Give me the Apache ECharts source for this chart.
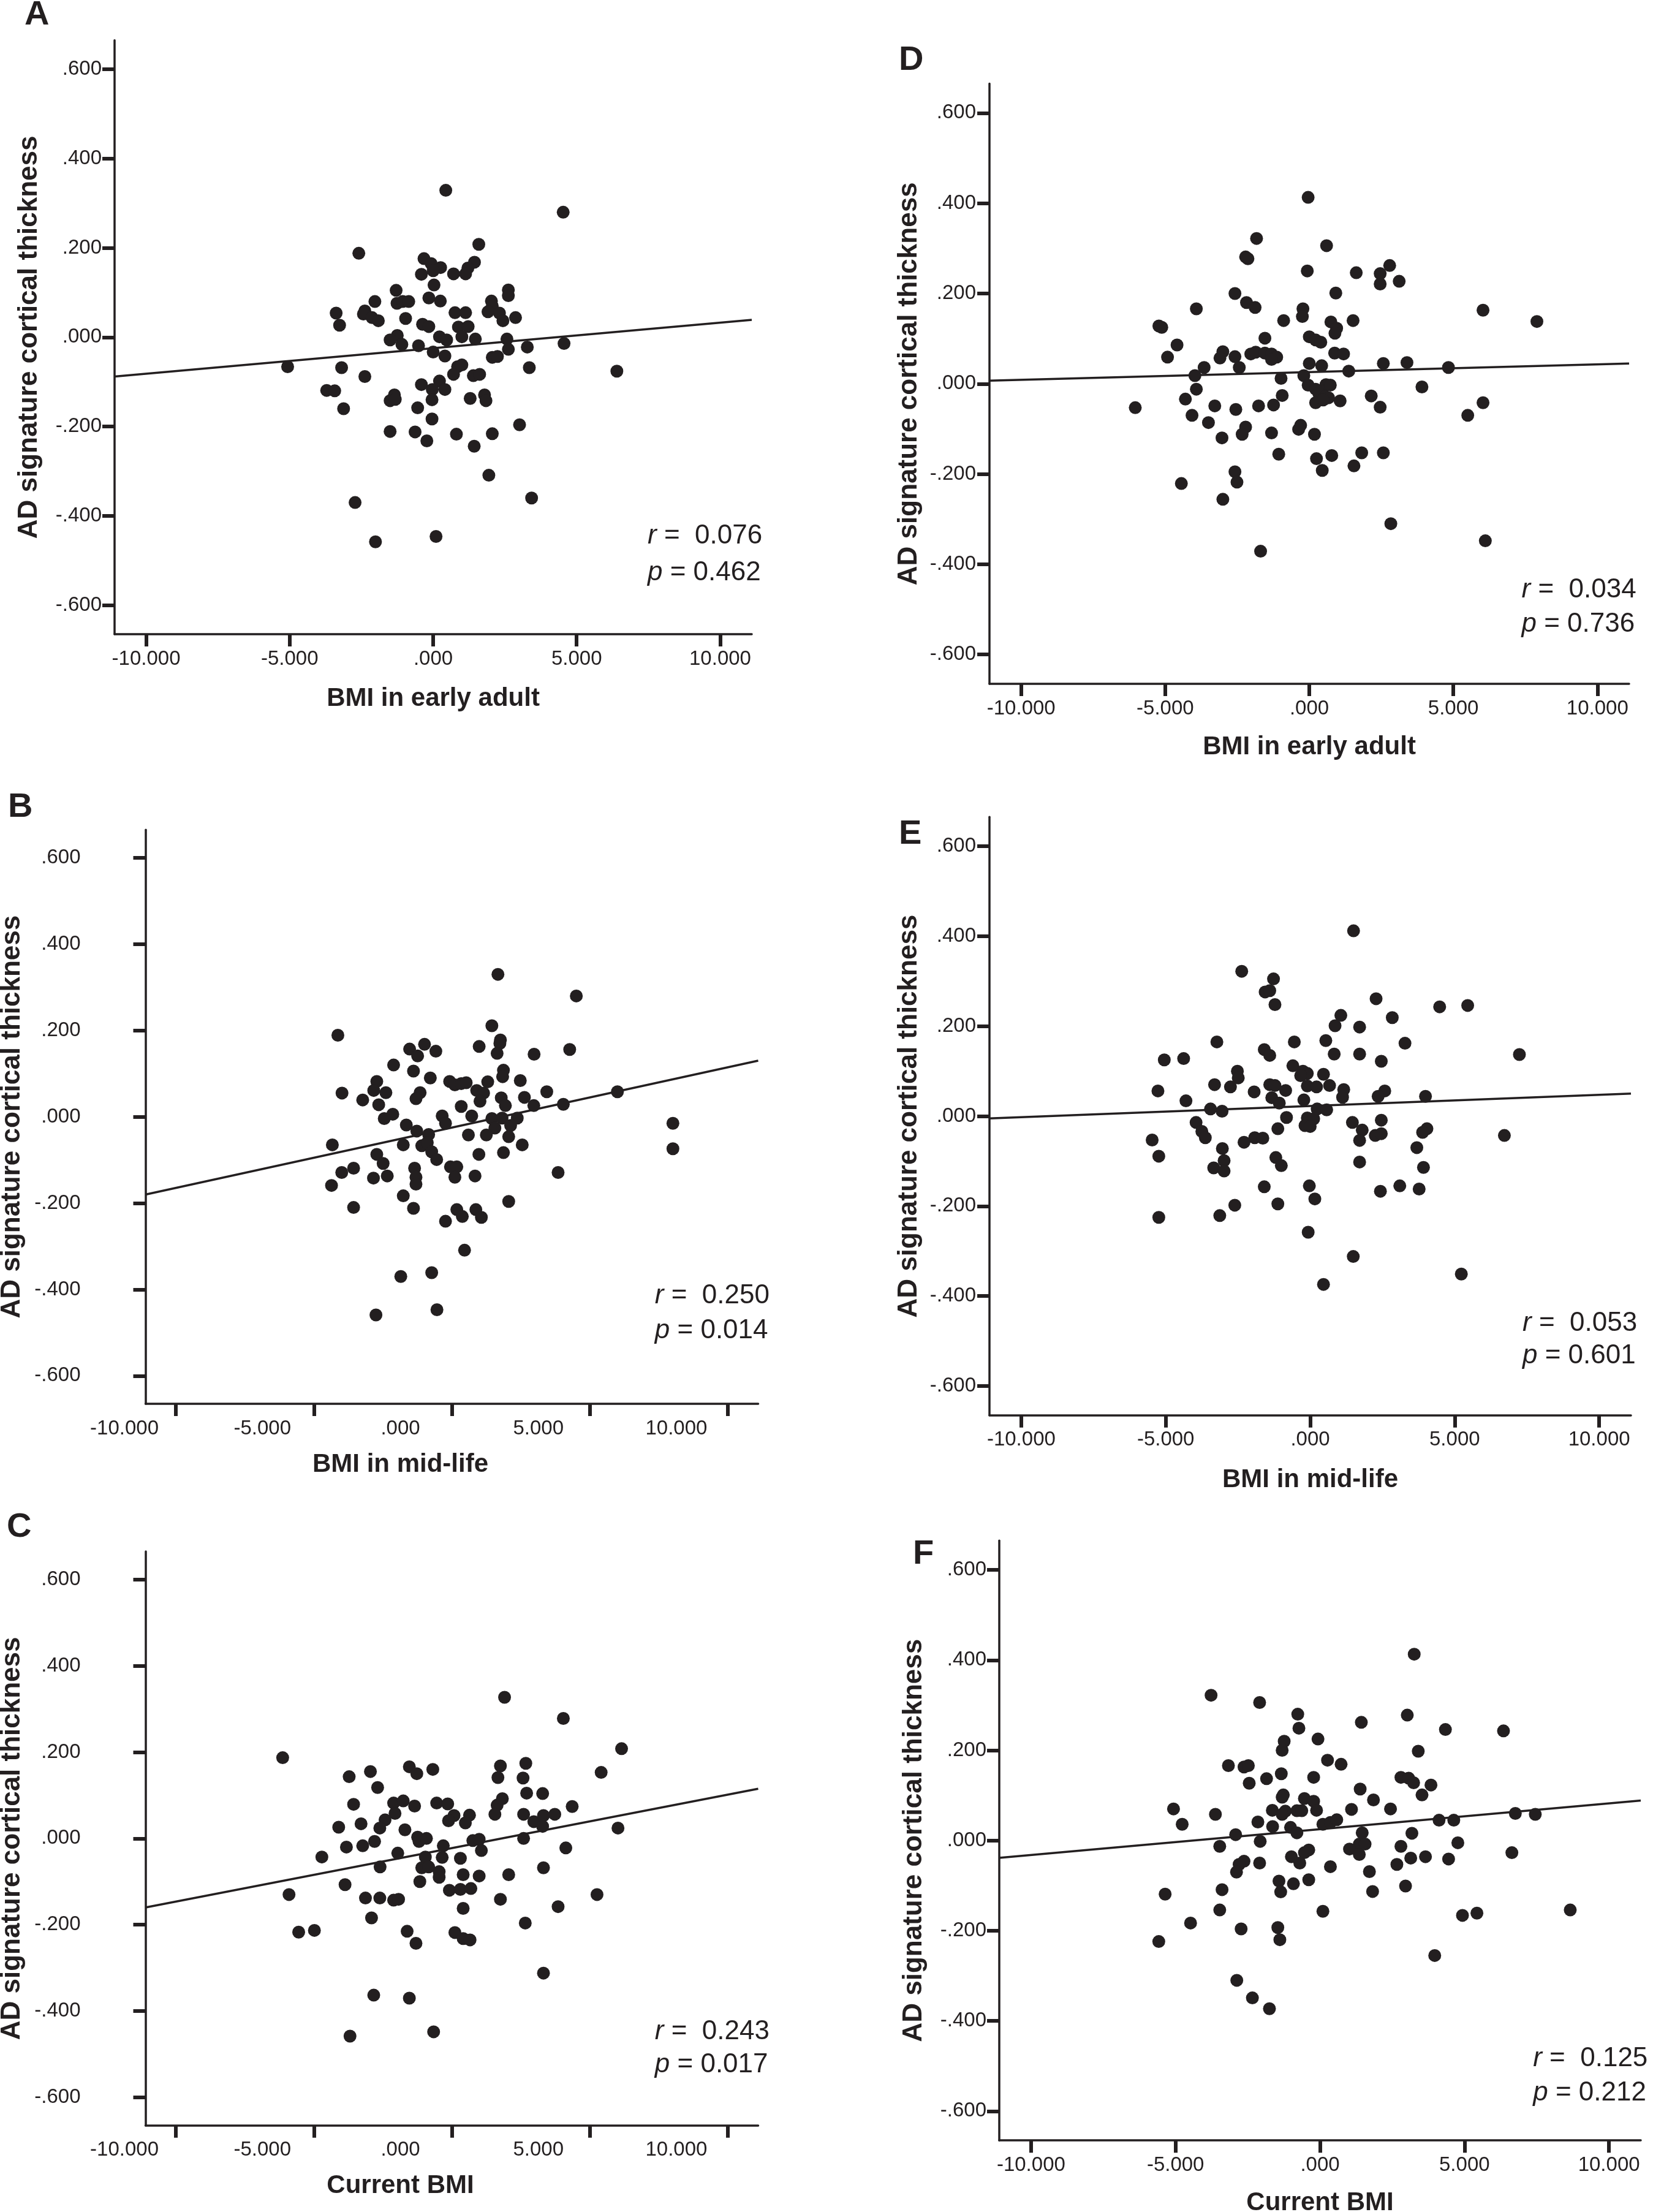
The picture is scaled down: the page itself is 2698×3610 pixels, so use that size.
<!DOCTYPE html>
<html><head><meta charset="utf-8">
<script src="https://cdn.jsdelivr.net/npm/echarts@6/dist/echarts.min.js"></script>
<style>html,body{margin:0;padding:0;background:#fff}#c{width:2698px;height:3610px}</style>
</head><body><div id="c"></div>
<script>
// ---------- tick labels ----------
const xTickValues = [-10, -5, 0, 5, 10];
const xTickLabels = ['-10.000', '-5.000', '.000', '5.000', '10.000'];
const yTickValues = [-0.6, -0.4, -0.2, 0, 0.2, 0.4, 0.6];
const yTickLabels = ['-.600', '-.400', '-.200', '.000', '.200', '.400', '.600'];
const yTitle = 'AD signature cortical thickness';

// ---------- Panel A : BMI in early adult ----------
const pointsA = [[0.44,0.329],[4.53,0.280],[1.59,0.208],[-2.59,0.188],[-0.32,0.176],[-0.07,0.165],[0.26,0.156],[0,0.149],[1.44,0.168],[1.21,0.155],[1.13,0.142],[0.71,0.142],[-0.41,0.141],[0.03,0.117],[-1.29,0.105],[2.62,0.106],[2.62,0.093],[-2.03,0.080],[-1.26,0.076],[-1.06,0.080],[-0.85,0.080],[-0.15,0.088],[0.25,0.081],[2.03,0.081],[2.06,0.070],[-3.38,0.054],[-2.38,0.059],[-2.43,0.052],[-2.13,0.044],[-1.91,0.037],[-0.96,0.042],[0.76,0.055],[1.13,0.055],[1.91,0.057],[2.31,0.054],[2.43,0.037],[2.87,0.044],[-3.26,0.027],[-0.37,0.029],[-0.15,0.024],[0.88,0.023],[1.22,0.024],[1.0,0.001],[-1.25,0.004],[-1.5,-0.006],[-1.09,-0.016],[-0.51,-0.019],[0.22,0.001],[0.47,-0.006],[1.47,-0.004],[2.57,-0.004],[2.62,-0.027],[3.28,-0.022],[4.56,-0.014],[0,-0.033],[0.41,-0.042],[2.06,-0.045],[2.24,-0.043],[-5.07,-0.066],[-3.19,-0.068],[0.85,-0.066],[1.0,-0.062],[3.35,-0.068],[6.4,-0.076],[-2.38,-0.088],[0.71,-0.083],[1.40,-0.086],[1.62,-0.083],[-0.41,-0.106],[0.22,-0.098],[-0.03,-0.117],[0.41,-0.117],[-3.71,-0.119],[-3.43,-0.120],[-1.35,-0.129],[-1.5,-0.142],[-1.32,-0.139],[-0.04,-0.140],[1.29,-0.137],[1.79,-0.129],[1.84,-0.142],[-3.12,-0.160],[-0.54,-0.158],[-0.04,-0.183],[3.01,-0.196],[-1.5,-0.211],[-0.63,-0.212],[-0.22,-0.232],[0.81,-0.217],[2.06,-0.216],[1.43,-0.244],[1.94,-0.309],[-2.72,-0.370],[3.43,-0.360],[-2.01,-0.458],[0.10,-0.446]];
const fitA = [[-11.1, -0.088], [11.1, 0.039]];
const statsA = ['0.076', '0.462'];

// ---------- Panel B : BMI in mid-life ----------
const pointsB = [[1.67,0.330],[4.51,0.280],[1.45,0.211],[-4.13,0.189],[1.76,0.178],[1.74,0.170],[-0.99,0.168],[-1.53,0.157],[-0.58,0.152],[-1.24,0.141],[0.99,0.163],[4.27,0.156],[1.64,0.147],[2.98,0.145],[-2.11,0.120],[-1.39,0.106],[1.87,0.108],[1.84,0.093],[-0.78,0.090],[-2.72,0.082],[-0.08,0.082],[0.11,0.074],[0.34,0.077],[0.52,0.079],[1.30,0.081],[2.48,0.084],[-2.83,0.061],[-2.39,0.056],[-3.98,0.055],[-1.15,0.056],[-1.30,0.042],[0.90,0.061],[1.15,0.055],[1.02,0.036],[1.79,0.044],[3.44,0.058],[6.0,0.058],[-3.23,0.039],[-2.65,0.028],[0.34,0.024],[1.94,0.026],[2.63,0.045],[2.97,0.026],[4.04,0.029],[-2.14,0.006],[-2.45,-0.004],[-0.35,0.002],[0.72,0.002],[1.45,-0.004],[1.82,-0.003],[2.37,-0.003],[-0.23,-0.015],[-1.65,-0.019],[1.56,-0.026],[2.13,-0.020],[-1.27,-0.033],[-0.84,-0.041],[0.60,-0.042],[1.25,-0.042],[2.06,-0.046],[-4.33,-0.065],[-1.76,-0.065],[-1.09,-0.067],[-0.89,-0.060],[2.55,-0.065],[-0.73,-0.081],[-2.72,-0.087],[0.98,-0.087],[1.87,-0.083],[-0.55,-0.099],[-2.49,-0.108],[-1.35,-0.119],[-0.05,-0.116],[0.18,-0.116],[-3.56,-0.119],[-3.99,-0.129],[3.85,-0.129],[-1.30,-0.140],[-1.30,-0.156],[-2.84,-0.142],[-2.34,-0.137],[0.11,-0.140],[0.84,-0.137],[-4.36,-0.159],[-1.76,-0.183],[2.06,-0.196],[-3.56,-0.210],[-1.39,-0.212],[0.18,-0.215],[0.38,-0.231],[0.87,-0.215],[1.07,-0.233],[-0.23,-0.242],[0.46,-0.309],[-1.85,-0.370],[-0.73,-0.361],[-2.75,-0.459],[-0.54,-0.447],[8.01,-0.015],[8.01,-0.074]];
const fitB = [[-11.1, -0.180], [11.1, 0.130]];
const statsB = ['0.250', '0.014'];

// ---------- Panel C : Current BMI ----------
const pointsC = [[1.91,0.327],[4.04,0.278],[6.15,0.208],[-6.13,0.187],[2.68,0.174],[1.76,0.168],[-1.54,0.166],[-0.69,0.160],[-2.95,0.155],[-1.27,0.150],[5.41,0.153],[-3.72,0.143],[1.67,0.141],[2.58,0.140],[-2.69,0.118],[2.71,0.105],[3.29,0.104],[-3.56,0.079],[-2.11,0.082],[-1.76,0.087],[-1.35,0.075],[-0.55,0.082],[-0.15,0.080],[1.64,0.077],[1.83,0.092],[4.36,0.074],[-2.06,0.058],[-2.42,0.043],[0.08,0.053],[-0.12,0.041],[0.64,0.054],[0.49,0.036],[1.56,0.056],[2.60,0.056],[2.97,0.039],[3.32,0.053],[3.73,0.056],[3.29,0.028],[-4.10,0.026],[-3.29,0.034],[-2.61,0.024],[-1.70,0.020],[6.02,0.024],[-1.24,0.003],[-1.19,-0.007],[-0.92,0],[-2.80,-0.007],[0.76,-0.005],[0.99,-0.002],[2.60,0],[-3.82,-0.020],[-3.23,-0.017],[-0.31,-0.017],[1.07,-0.028],[4.13,-0.022],[-1.96,-0.034],[-4.71,-0.043],[-0.96,-0.043],[-0.35,-0.044],[0.31,-0.046],[-1.09,-0.068],[-0.84,-0.066],[-2.60,-0.066],[-0.46,-0.077],[-0.46,-0.090],[0.41,-0.084],[0.99,-0.087],[2.06,-0.084],[3.32,-0.068],[-1.16,-0.100],[-3.87,-0.107],[-0.09,-0.120],[0.31,-0.118],[0.69,-0.116],[-5.90,-0.130],[-3.13,-0.138],[-2.61,-0.138],[-2.11,-0.143],[-1.93,-0.141],[1.76,-0.141],[5.26,-0.130],[0.41,-0.162],[3.85,-0.158],[-2.91,-0.184],[2.66,-0.196],[-5.55,-0.217],[-4.98,-0.213],[-1.62,-0.215],[0.11,-0.218],[0.41,-0.232],[0.66,-0.235],[-1.30,-0.243],[3.32,-0.312],[-2.83,-0.363],[-1.54,-0.370],[-0.66,-0.448],[-3.69,-0.458]];
const fitC = [[-11.1, -0.160], [11.1, 0.115]];
const statsC = ['0.243', '0.017'];

// ---------- Panel D : BMI in early adult ----------
const pointsD = [[-0.04,0.413],[-1.83,0.322],[0.60,0.306],[-2.21,0.281],[-2.13,0.277],[-0.07,0.250],[1.63,0.246],[2.79,0.262],[2.46,0.244],[2.46,0.221],[3.12,0.227],[-2.58,0.200],[0.92,0.201],[-2.18,0.180],[-1.88,0.169],[-3.92,0.166],[-0.22,0.166],[-0.24,0.149],[6.03,0.163],[-0.89,0.140],[0.75,0.137],[1.52,0.140],[7.9,0.138],[-5.22,0.128],[-5.12,0.125],[0.95,0.123],[0.89,0.112],[-1.54,0.101],[0,0.104],[0.22,0.097],[0.40,0.092],[-4.59,0.086],[-4.92,0.059],[-3.0,0.071],[-3.1,0.057],[-2.58,0.060],[-2.03,0.066],[-1.86,0.070],[-1.54,0.068],[-1.31,0.066],[-1.13,0.059],[-1.31,0.054],[0.88,0.068],[1.19,0.066],[0,0.045],[0.43,0.040],[2.57,0.045],[3.39,0.047],[4.83,0.036],[-3.65,0.036],[-2.43,0.036],[1.37,0.028],[-3.97,0.018],[-0.98,0.012],[-0.19,0.018],[-0.04,-0.003],[0.58,-0.002],[0.73,-0.003],[-3.92,-0.012],[0.22,-0.012],[0.33,-0.021],[0.55,-0.028],[0.67,-0.031],[3.91,-0.007],[-4.30,-0.034],[-0.94,-0.026],[0.22,-0.042],[0.48,-0.036],[1.07,-0.038],[2.15,-0.027],[-6.04,-0.053],[-3.28,-0.049],[-2.55,-0.057],[-1.76,-0.049],[-1.24,-0.047],[2.46,-0.052],[6.03,-0.042],[-4.07,-0.070],[-3.50,-0.086],[-2.21,-0.096],[-2.33,-0.112],[-0.30,-0.092],[-0.37,-0.101],[-1.31,-0.109],[0.18,-0.112],[5.50,-0.070],[-3.03,-0.120],[-1.06,-0.156],[0.25,-0.166],[0.78,-0.159],[1.82,-0.153],[2.57,-0.153],[0.45,-0.192],[1.55,-0.182],[-2.58,-0.195],[-2.51,-0.218],[-4.44,-0.221],[-3.0,-0.256],[2.83,-0.310],[6.11,-0.348],[-1.69,-0.371]];
const fitD = [[-11.1, 0.007], [11.1, 0.045]];
const statsD = ['0.034', '0.736'];

// ---------- Panel E : BMI in mid-life ----------
const pointsE = [[1.50,0.412],[-2.37,0.322],[-1.27,0.305],[-1.56,0.276],[-1.40,0.279],[-1.22,0.248],[2.28,0.261],[4.48,0.243],[5.45,0.246],[1.06,0.224],[2.84,0.219],[0.86,0.201],[1.71,0.198],[-3.23,0.165],[-0.55,0.165],[0.54,0.168],[3.28,0.162],[-1.59,0.148],[-1.40,0.135],[0.83,0.138],[1.71,0.138],[7.24,0.137],[-5.05,0.125],[-4.38,0.128],[2.46,0.122],[-0.60,0.112],[-2.52,0.100],[-0.25,0.100],[-0.10,0.095],[-0.33,0.090],[0.46,0.093],[-2.49,0.085],[-3.31,0.070],[-2.76,0.065],[-1.40,0.070],[-1.22,0.068],[-0.85,0.057],[-0.10,0.067],[0.22,0.065],[0.67,0.068],[1.16,0.059],[-5.27,0.056],[-1.94,0.054],[2.58,0.056],[-1.33,0.041],[-1.07,0.029],[-0.22,0.036],[1.12,0.042],[2.35,0.044],[3.99,0.044],[-4.30,0.034],[-3.45,0.016],[-3.05,0.011],[0.24,0.016],[0.57,0.014],[-0.82,-0.003],[-0.10,-0.004],[0.12,-0.006],[-3.95,-0.014],[-0.18,-0.021],[0,-0.023],[1.46,-0.014],[2.46,-0.009],[-3.75,-0.034],[-1.12,-0.028],[1.80,-0.031],[4.04,-0.028],[-3.63,-0.048],[-5.47,-0.053],[-1.92,-0.048],[-1.64,-0.049],[-2.29,-0.058],[2.25,-0.043],[2.46,-0.039],[1.71,-0.054],[3.89,-0.036],[6.72,-0.043],[-3.04,-0.072],[3.69,-0.070],[-5.24,-0.089],[-1.19,-0.092],[-2.98,-0.099],[-1.0,-0.110],[1.71,-0.102],[-3.34,-0.115],[-2.98,-0.122],[3.92,-0.114],[-1.59,-0.157],[-0.03,-0.155],[0.16,-0.184],[3.10,-0.155],[3.77,-0.162],[2.43,-0.167],[-2.61,-0.198],[-1.12,-0.195],[-5.24,-0.225],[-3.13,-0.221],[-0.07,-0.258],[1.49,-0.312],[5.23,-0.351],[0.46,-0.374]];
const fitE = [[-11.1, -0.005], [11.1, 0.050]];
const statsE = ['0.053', '0.601'];

// ---------- Panel F : Current BMI ----------
const pointsF = [[3.26,0.413],[-3.77,0.322],[-2.09,0.306],[-0.77,0.280],[3.02,0.278],[1.43,0.262],[-0.73,0.249],[4.34,0.246],[6.35,0.243],[-1.24,0.220],[-0.07,0.225],[-1.31,0.200],[3.40,0.198],[0.26,0.178],[0.73,0.169],[-3.17,0.166],[-2.63,0.163],[-2.48,0.166],[-1.34,0.148],[-0.22,0.140],[-1.85,0.137],[2.80,0.140],[3.07,0.138],[3.24,0.128],[-2.45,0.127],[3.84,0.123],[1.39,0.114],[3.53,0.101],[-1.27,0.101],[-1.31,0.096],[-0.54,0.093],[-0.22,0.087],[1.85,0.090],[-5.07,0.070],[-3.62,0.058],[-1.65,0.067],[-1.20,0.065],[-1.31,0.058],[-0.80,0.066],[-0.63,0.066],[-0.12,0.067],[1.09,0.069],[2.44,0.070],[6.76,0.060],[7.45,0.058],[-4.77,0.036],[-2.15,0.041],[-1.64,0.031],[0.10,0.036],[0.36,0.040],[0.58,0.046],[4.12,0.045],[4.63,0.045],[-1.02,0.029],[-0.80,0.017],[-2.92,0.013],[1.46,0.017],[3.18,0.016],[-2.07,-0.002],[-3.47,-0.013],[1.36,-0.008],[1.56,-0.008],[2.80,-0.013],[4.77,-0.005],[1.02,-0.019],[-0.39,-0.021],[-0.54,-0.027],[1.36,-0.031],[-0.99,-0.036],[3.14,-0.039],[3.65,-0.036],[6.64,-0.027],[-0.70,-0.050],[-2.63,-0.046],[-2.80,-0.053],[-2.09,-0.050],[2.66,-0.053],[4.45,-0.041],[0.36,-0.058],[-2.89,-0.070],[1.71,-0.069],[-0.39,-0.087],[-1.42,-0.090],[-0.92,-0.096],[2.96,-0.101],[-3.39,-0.109],[-1.36,-0.114],[1.82,-0.113],[-5.36,-0.119],[-3.47,-0.154],[0.10,-0.157],[4.93,-0.166],[5.43,-0.161],[8.66,-0.154],[-4.48,-0.183],[-2.73,-0.196],[-1.46,-0.193],[-1.39,-0.220],[-5.58,-0.224],[3.97,-0.255],[-2.88,-0.310],[-2.34,-0.349],[-1.75,-0.373]];
const fitF = [[-11.1, -0.0386], [11.1, 0.0887]];
const statsF = ['0.125', '0.212'];

// ---------- layout / style ----------
const FONT = "'Liberation Sans', Arial, Helvetica, sans-serif";
const INK = '#231f20';
const X_RANGE = [-11.1, 11.1];
const Y_RANGE = [-0.665, 0.665];

const panels = [
  { letter: 'A', pts: pointsA, fit: fitA, stats: statsA, xName: 'BMI in early adult',
    grid: { left: 187, top: 65.7, width: 1040, height: 969.4 }, xNameGap: 84, yNameGap: 117, yLabelMargin: 21, shift: 0,
    letterPos: [40, 25], statsPos: [1057, 875, 934.4] },
  { letter: 'B', pts: pointsB, fit: fitB, stats: statsB, xName: 'BMI in mid-life',
    grid: { left: 237.5, top: 1354.2, width: 1000, height: 936.9 }, xNameGap: 78, yNameGap: 196, yLabelMargin: 106, shift: 84,
    letterPos: [13, 1318], statsPos: [1068.8, 2115, 2172] },
  { letter: 'C', pts: pointsC, fit: fitC, stats: statsC, xName: 'Current BMI',
    grid: { left: 237.5, top: 2531.9, width: 1000, height: 936.9 }, xNameGap: 78, yNameGap: 196, yLabelMargin: 106, shift: 84,
    letterPos: [11, 2493], statsPos: [1068.8, 3316, 3370] },
  { letter: 'D', pts: pointsD, fit: fitD, stats: statsD, xName: 'BMI in early adult',
    grid: { left: 1615, top: 136.5, width: 1044, height: 979.6 }, xNameGap: 82, yNameGap: 109, yLabelMargin: 22, shift: 0,
    letterPos: [1467, 98.5], statsPos: [2483.5, 963, 1019] },
  { letter: 'E', pts: pointsE, fit: fitE, stats: statsE, xName: 'BMI in mid-life',
    grid: { left: 1615, top: 1333.3, width: 1047, height: 976.5 }, xNameGap: 85, yNameGap: 109, yLabelMargin: 22, shift: 0,
    letterPos: [1467, 1362], statsPos: [2485, 2160, 2212.5] },
  { letter: 'F', pts: pointsF, fit: fitF, stats: statsF, xName: 'Current BMI',
    grid: { left: 1631, top: 2514.2, width: 1047, height: 979 }, xNameGap: 81, yNameGap: 117, yLabelMargin: 21, shift: 0,
    letterPos: [1490, 2537], statsPos: [2502.2, 3360, 3415.8] }
];

function lookup(values, labels, v) {
  const i = values.findIndex(t => Math.abs(t - v) < 1e-6);
  return i < 0 ? '' : labels[i];
}

const grids = [], xAxes = [], yAxes = [], series = [], graphics = [];
panels.forEach((p, i) => {
  grids.push(Object.assign({ outerBoundsMode: 'none', containLabel: false }, p.grid));
  const lineCfg = { show: true, onZero: false, lineStyle: { color: INK, width: 3.5 } };
  const tickCfg = { show: true, length: 20, lineStyle: { color: INK, width: 6 } };
  xAxes.push({
    type: 'value', gridIndex: i, min: X_RANGE[0], max: X_RANGE[1],
    axisLine: lineCfg,
    axisTick: Object.assign({ customValues: xTickValues }, tickCfg),
    axisLabel: {
      customValues: xTickValues, margin: 24, color: INK, fontFamily: FONT, fontSize: 33,
      padding: [0, 2 * p.shift, 0, 0],
      formatter: v => lookup(xTickValues, xTickLabels, v)
    },
    splitLine: { show: false },
    name: p.xName, nameLocation: 'middle', nameGap: p.xNameGap, nameMoveOverlap: false,
    nameTextStyle: { color: INK, fontFamily: FONT, fontSize: 42, fontWeight: 'bold', padding: [0, 2 * p.shift, 0, 0] }
  });
  yAxes.push({
    type: 'value', gridIndex: i, min: Y_RANGE[0], max: Y_RANGE[1],
    axisLine: lineCfg,
    axisTick: Object.assign({ customValues: yTickValues }, tickCfg),
    axisLabel: {
      customValues: yTickValues, margin: p.yLabelMargin, color: INK, fontFamily: FONT, fontSize: 33,
      formatter: v => lookup(yTickValues, yTickLabels, v)
    },
    splitLine: { show: false },
    name: yTitle, nameLocation: 'middle', nameRotate: 90, nameGap: p.yNameGap, nameMoveOverlap: false,
    nameTextStyle: { color: INK, fontFamily: FONT, fontSize: 44, fontWeight: 'bold' }
  });
  series.push({
    type: 'line', xAxisIndex: i, yAxisIndex: i, data: p.fit, showSymbol: false, symbol: 'none',
    lineStyle: { color: INK, width: 3.5 }, silent: true, z: 2, clip: false
  });
  series.push({
    type: 'scatter', xAxisIndex: i, yAxisIndex: i, data: p.pts, symbol: 'circle', symbolSize: 21,
    itemStyle: { color: INK, opacity: 1 }, silent: true, z: 3
  });
  graphics.push({
    type: 'text', x: p.letterPos[0], y: p.letterPos[1],
    style: { text: p.letter, fill: INK, fontFamily: FONT, fontSize: 56, fontWeight: 'bold', align: 'left', verticalAlign: 'middle' }
  });
  const statLine = (sym, val, y) => ({
    type: 'text', x: p.statsPos[0], y: y,
    style: {
      text: '{i|' + sym + '}' + (sym === 'r' ? ' =  ' : ' = ') + val,
      fill: INK, fontFamily: FONT, fontSize: 44, align: 'left', verticalAlign: 'middle',
      rich: { i: { fontStyle: 'italic', fontFamily: FONT, fontSize: 44, fill: INK } }
    }
  });
  graphics.push(statLine('r', p.stats[0], p.statsPos[1]));
  graphics.push(statLine('p', p.stats[1], p.statsPos[2]));
});

const chart = echarts.init(document.getElementById('c'), null, { renderer: 'canvas', width: 2698, height: 3610 });
chart.setOption({
  backgroundColor: '#ffffff',
  animation: false,
  textStyle: { fontFamily: FONT },
  grid: grids, xAxis: xAxes, yAxis: yAxes, series: series, graphic: graphics
});
</script>
</body></html>
